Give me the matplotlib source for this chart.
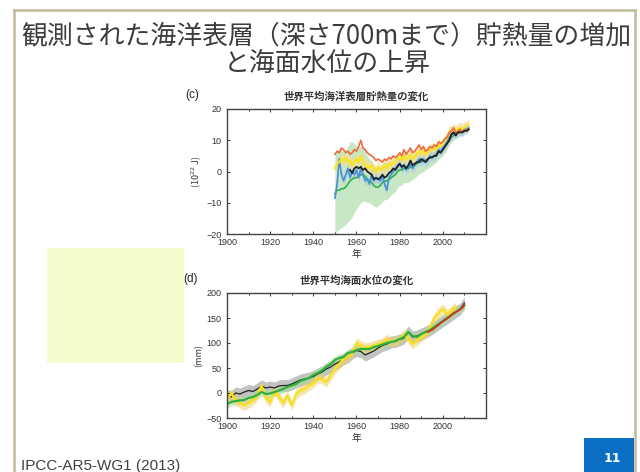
import numpy as np
import matplotlib
matplotlib.use("Agg")
import matplotlib.pyplot as plt
from matplotlib.patches import Rectangle
from matplotlib.lines import Line2D

plt.rcParams['font.family'] = ['Noto Sans CJK JP', 'DejaVu Sans']

# ---------------- data: upper-ocean heat content (10^22 J) ----------------
ohc_start = 1950
ohc_orange = [5.5, 6.5, 6, 7.5, 7, 6, 6.5, 5.5, 6, 7, 6.5, 8, 10, 7.5, 7, 6, 5.5, 5,
              4.5, 3.5, 4, 3.5, 3, 4, 3.5, 4.5, 4, 5, 4.5, 5, 6, 5, 7, 5.5, 6.5, 7.5,
              6, 6.5, 7.5, 8.5, 7, 8, 6.5, 7, 8, 7.5, 8.5, 8, 9.5, 9, 9.5, 10.5, 11,
              12.5, 13, 14, 12.5, 13, 13.5, 12.5, 13.5, 13, 13.5]
ohc_yellow = [1, 2.5, 3, 4, 3.5, 4.5, 3, 3.5, 2, 3, 4, 3, 5, 3, 2, 1.5, 1, 2, 0.5, 0,
              1.5, 0.5, 1, 2, 1, 2.5, 2, 3, 3, 4, 4.5, 3.5, 5, 4, 4.5, 5.5, 4, 5, 5.5,
              6.5, 6, 6.5, 5.5, 6, 7, 7, 7.5, 7, 8.5, 8, 9, 10, 11, 12.5, 13, 13.5, 13,
              13.5, 14, 13.5, 14, 14.5, 15]
ohc_blue = [-8.5, -4, 4, -1, -3, -1, 1, -2, 0, -1, 0.5, -2, 1, -1, -3, -2.5, -4, -1,
            -3, -2, -2.5, -3, -1.5, -4, -6, -2, -1, 0, 1, 2, 2.5, 1, 2, 0.5, 1.5, 2.5,
            1, 2, 3, 4, 3, 4, 3, 3.5, 5, 4.5, 5, 5.5, 7, 6.5, 7.5, 8.5, 9.5, 11, 11.5,
            12.5, 12, 12.5, 13, 12.5, 13.5, 13.5, 14]
ohc_green = [-7, -6, -6, -5.5, -5.5, -5, -4, -3, -2.5, -2, -2, -1.5, -1, -1, -1.5,
             -2.5, -3, -3.5, -4.5, -5, -5, -4.5, -3.5, -3, -3, -2.5, -2, -1.5, -1, 0,
             0.5, 0.5, 1, 1, 1, 1.5, 1.5, 2, 2.5, 3, 3, 3.5, 3.5, 4, 4.5, 4.5, 5, 5.5,
             6, 6.5, 7, 8, 9, 10, 11, 11.5, 12, 12.5, 13, 13, 13.5]
ohc_green_unc = [13, 13, 12.5, 12.5, 12, 12, 12, 12.5,
                 12, 11, 10, 9.5, 9, 8.5, 8, 7.5,
                 7, 7, 6.5, 6.5, 6, 6, 6, 6, 6, 6,
                 5.5, 5.5, 5.5, 5, 5, 5, 4.5, 4.5, 4.5, 4.5,
                 4, 4, 4, 3.5, 3.5, 3.5, 3, 3, 3, 2.5,
                 2.5, 2.5, 2, 2, 2, 2, 2, 1.5, 1.5, 1.5,
                 1.5, 1.5, 1.5, 1.5, 1.5]
ohc_black_start = 1957
ohc_black = [0.5, -0.5, 1, 1.5, 1, 1.5, 0.5, 1, 0, -0.5,
             -1, -2.5, -2, -2.5, -2, -1, -2, -1.5, -0.5, 0,
             1, 0.5, 1.5, 2.5, 1.5, 2, 1, 2, 3.5, 2,
             2.5, 3, 3, 4, 3.5, 3, 4, 4.5, 4.5, 5,
             5, 6.5, 6, 7, 8, 9, 10, 12, 12.5, 11.5,
             12.5, 12.5, 12.5, 13, 13, 13.5]

# ---------------- data: global mean sea level (mm) ----------------
gmsl_start = 1900
gmsl_step = 2
gmsl_black = [-5, -8, 0, -2, 2, 5, 3, 8, 14, 10, 12, 10, 14, 15, 15, 18, 22, 26, 28,
              30, 33, 38, 42, 48, 52, 58, 62, 68, 72, 80, 85, 83, 76, 80, 84, 90, 95,
              98, 102, 103, 106, 110, 122, 112, 114, 118, 122, 126, 132, 138, 144,
              150, 156, 162, 168, 180]
gmsl_green = [-22, -18, -16, -15, -14, -10, -8, -4, 2, -2, -1, 2, 5, 8, 12, 15, 18,
              24, 27, 30, 36, 40, 45, 52, 58, 66, 70, 72, 80, 82, 86, 88, 88, 88, 92,
              94, 97, 100, 102, 104, 108, 112, 122, 114, 112, 118, 122, 126, 132,
              138, 144, 150, 156, 162, 168, 175]
gmsl_yellow = [-15, 0, -15, -20, -25, -20, -15, -5, 15, -10, -18, 5, -8, -20, -5,
               -25, -2, 5, 8, 15, 20, 30, 28, 22, 35, 48, 58, 68, 72, 80, 100, 95, 90,
               92, 95, 98, 100, 108, 102, 104, 106, 118, 108, 98, 105, 112, 118, 130,
               150, 160, 168, 158, 165, 172]
gmsl_red_start = 1993
gmsl_red = [122, 124, 126, 129, 133, 136, 140, 143, 146, 149, 152, 156, 160, 162,
            164, 167, 170, 178]

title_lines = ["観測された海洋表層（深さ700mまで）貯熱量の増加", "と海面水位の上昇"]
title_c = "世界平均海洋表層貯熱量の変化"
title_d = "世界平均海面水位の変化"
xlabel = "年"
ylabel_c = "(10$^{22}$ J)"
ylabel_d = "(mm)"
source = "IPCC-AR5-WG1 (2013)"
page_no = "11"


def yrs(start, values, step=1):
    return start + step * np.arange(len(values))


W, H = 640, 472
fig = plt.figure(figsize=(W / 100, H / 100), dpi=100)
fig.patch.set_facecolor("white")

# slide frame
border = "#C3B99D"
fig.add_artist(Line2D([14 / W, 635 / W], [1 - 10 / H, 1 - 10 / H], color=border, lw=1.8))
fig.add_artist(Line2D([14 / W, 14 / W], [1 - 10 / H, 0], color=border, lw=1.8))
fig.add_artist(Line2D([635 / W, 635 / W], [1 - 10 / H, 0], color=border, lw=1.8))

# title
tcol = "#3c3c3c"
fig.text(326 / W, 1 - 36 / H, title_lines[0], ha="center", va="center",
         fontsize=18.6, color=tcol)
fig.text(327 / W, 1 - 63 / H, title_lines[1], ha="center", va="center",
         fontsize=18.6, color=tcol)

# pale note box
fig.add_artist(Rectangle((47 / W, 1 - 363 / H), 137 / W, 115 / H,
                         transform=fig.transFigure, facecolor="#F4FBCC",
                         edgecolor="none"))

# page number box
fig.add_artist(Rectangle((584 / W, 0), 50 / W, 34 / H, transform=fig.transFigure,
                         facecolor="#0A6FC2", edgecolor="none"))
fig.text(612 / W, 1 - 458 / H, page_no, ha="center", va="center", fontsize=9,
         color="white", fontweight="bold", family="DejaVu Sans")

fig.text(21 / W, 1 - 466 / H, source, ha="left", va="center", fontsize=11,
         color="#404040", family="Liberation Sans")


def style_axes(ax, ylim, yticks):
    ax.set_xlim(1900, 2020)
    ax.set_ylim(*ylim)
    ax.set_xticks([1900, 1920, 1940, 1960, 1980, 2000])
    ax.set_xticks(np.arange(1900, 2021, 10), minor=True)
    ax.set_yticks(yticks)
    ax.tick_params(axis="both", which="both", direction="in", top=True, right=True,
                   labelsize=6.5, colors="#333333", length=2.5, width=0.7)
    ax.tick_params(axis="y", pad=4)
    ax.tick_params(axis="x", pad=3)
    ax.tick_params(which="minor", length=1.5)
    for lab in ax.get_xticklabels() + ax.get_yticklabels():
        lab.set_family("Liberation Sans")
    for s in ax.spines.values():
        s.set_color("#444444")
        s.set_linewidth(1.0)
    ax.set_xlabel(xlabel, fontsize=7, color="#333333", labelpad=1)


# ---------------- panel (c) ----------------
axc = fig.add_axes([227 / W, 1 - 234 / H, 259 / W, 125 / H])
yo = yrs(ohc_start, ohc_orange)
yy = yrs(ohc_start, ohc_yellow)
yb = yrs(ohc_start, ohc_blue)
yg = yrs(ohc_start, ohc_green)
yk = yrs(ohc_black_start, ohc_black)
g = np.array(ohc_green)
gu = np.array(ohc_green_unc)
axc.fill_between(yg, g - gu, g + gu, color="#BFE3BA", lw=0, alpha=0.85)
axc.fill_between(yy, np.array(ohc_yellow) - 1.8, np.array(ohc_yellow) + 1.8,
                 color="#F8DE8A", lw=0, alpha=0.7)
axc.fill_between(yb, np.array(ohc_blue) - 1.5, np.array(ohc_blue) + 1.5,
                 color="#A9C8EA", lw=0, alpha=0.6)
axc.plot(yg, ohc_green, color="#2DB34A", lw=1.2)
axc.plot(yb, ohc_blue, color="#4A8FD8", lw=1.2)
axc.plot(yy, ohc_yellow, color="#F7E51A", lw=1.4)
axc.plot(yo, ohc_orange, color="#F06A3A", lw=1.2)
axc.plot(yk, ohc_black, color="#222222", lw=1.3)
style_axes(axc, (-20, 20), [-20, -10, 0, 10, 20])
axc.set_ylabel(ylabel_c, fontsize=6.5, color="#333333", labelpad=2)
axc.set_title(title_c, fontsize=7.5, fontweight="bold", color="#333333", pad=7)
fig.text(192 / W, 1 - 95 / H, "(c)", ha="center", va="center", fontsize=8.5,
         color="#222222", family="Liberation Sans")

# ---------------- panel (d) ----------------
axd = fig.add_axes([227 / W, 1 - 418 / H, 259 / W, 125 / H])
xk = yrs(gmsl_start, gmsl_black, gmsl_step)
xg = yrs(gmsl_start, gmsl_green, gmsl_step)
xy = yrs(gmsl_start, gmsl_yellow, gmsl_step)
xr = yrs(gmsl_red_start, gmsl_red)
k = np.array(gmsl_black)
gg = np.array(gmsl_green)
yl = np.array(gmsl_yellow)
axd.fill_between(xk, k - 12, k + 12, color="#A8A8A8", lw=0, alpha=0.7)
axd.fill_between(xg, gg - 8, gg + 8, color="#A6DB9C", lw=0, alpha=0.6)
axd.fill_between(xy, yl - 10, yl + 10, color="#F4CF6A", lw=0, alpha=0.55)
axd.plot(xk, gmsl_black, color="#222222", lw=0.9)
axd.plot(xy, gmsl_yellow, color="#F5E21A", lw=1.6)
axd.plot(xg, gmsl_green, color="#2EB040", lw=1.6)
axd.plot(xr, gmsl_red, color="#E32222", lw=1.2)
style_axes(axd, (-50, 200), [-50, 0, 50, 100, 150, 200])
axd.set_ylabel(ylabel_d, fontsize=6.5, color="#333333", labelpad=2)
axd.set_title(title_d, fontsize=7.5, fontweight="bold", color="#333333", pad=7)
fig.text(191 / W, 1 - 279 / H, "(d)", ha="center", va="center", fontsize=8.5,
         color="#222222", family="Liberation Sans")

fig.savefig("out.png", dpi=100)
